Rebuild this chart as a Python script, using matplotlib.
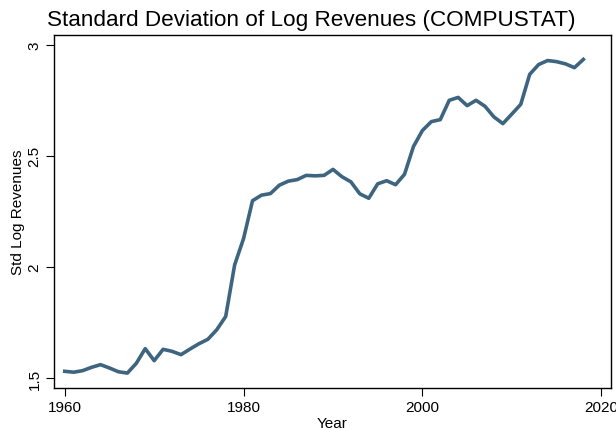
import numpy as np
import matplotlib.pyplot as plt

plt.rcParams['font.family'] = ['Liberation Sans', 'DejaVu Sans']

years = list(range(1960, 2019))
std_log_rev = [1.530, 1.526, 1.533, 1.548, 1.560, 1.545, 1.528, 1.522, 1.566, 1.632,
               1.578, 1.629, 1.620, 1.605, 1.630, 1.654, 1.674, 1.717, 1.777, 2.009,
               2.128, 2.298, 2.323, 2.330, 2.368, 2.386, 2.393, 2.412, 2.410, 2.412,
               2.439, 2.406, 2.383, 2.329, 2.309, 2.374, 2.388, 2.370, 2.417, 2.542,
               2.614, 2.654, 2.663, 2.750, 2.763, 2.726, 2.750, 2.723, 2.675, 2.645,
               2.688, 2.732, 2.867, 2.911, 2.929, 2.924, 2.914, 2.897, 2.934]

xticks = [1960, 1980, 2000, 2020]
yticks = [1.5, 2, 2.5, 3]
ytick_labels = ['1.5', '2', '2.5', '3']

fig = plt.figure(figsize=(6.16, 4.31), dpi=100)
ax = fig.add_axes([0.0877, 0.0975, 0.9043, 0.819])

ax.plot(years, std_log_rev, color='#3e6580', linewidth=2.6, solid_joinstyle='round')

ax.set_xlim(1958.8, 2021.1)
ax.set_ylim(1.455, 3.044)
ax.set_xticks(xticks)
ax.set_xticklabels([str(t) for t in xticks], fontsize=11)
ax.set_yticks(yticks)
ax.set_yticklabels(ytick_labels, fontsize=11, rotation=90, va='center')
ax.tick_params(length=6, width=0.8, color='black', pad=3)

for s in ax.spines.values():
    s.set_linewidth(1.0)
    s.set_color('black')

ax.set_xlabel('Year', fontsize=11, labelpad=1)
ax.set_ylabel('Std Log Revenues', fontsize=11, labelpad=2)

fig.text(0.076, 0.953, 'Standard Deviation of Log Revenues (COMPUSTAT)',
         fontsize=16.2, ha='left', va='center')

fig.savefig('out.png', dpi=100)
